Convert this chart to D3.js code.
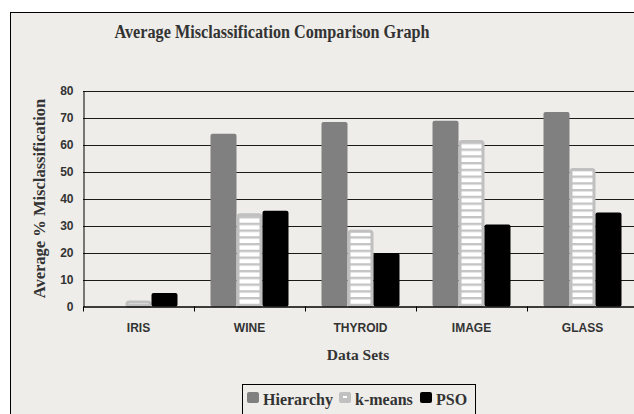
<!DOCTYPE html>
<html><head><meta charset="utf-8">
<script src="https://cdn.jsdelivr.net/npm/d3@7"></script>
<style>body{margin:0;background:#fff}</style>
</head><body>
<script>
const categories = ["IRIS","WINE","THYROID","IMAGE","GLASS"];
const seriesNames = ["Hierarchy","k-means","PSO"];
const hierarchy = [0, 64, 68.3, 68.8, 72];
const kmeans = [2.2, 34.5, 28.4, 61.7, 51.3];
const pso = [5.0, 35.5, 19.8, 30.4, 34.8];
const yTicks = [0,10,20,30,40,50,60,70,80];

const W=634,H=414;
const svg=d3.select("body").append("svg").attr("width",W).attr("height",H);
const defs=svg.append("defs");
const pat=defs.append("pattern").attr("id","stripes").attr("patternUnits","userSpaceOnUse")
  .attr("width",8).attr("height",6.75);
pat.append("rect").attr("width",8).attr("height",6.75).attr("fill","#ffffff");
pat.append("rect").attr("y",0).attr("width",8).attr("height",2.4).attr("fill","#c4c4c4");

svg.append("rect").attr("x",10.5).attr("y",12.5).attr("width",640).attr("height",420)
  .attr("fill","#eeede9").attr("stroke","#000").attr("stroke-width",1);

const m={l:83,r:638,t:90.5,b:306.5};
const x=d3.scaleBand().domain(categories).range([m.l,m.r]);
const y=d3.scaleLinear().domain([0,80]).range([m.b,m.t]);
const inner=d3.scaleBand().domain(seriesNames).range([0,78]).padding(0);

// gridlines
svg.append("g").selectAll("line").data(yTicks.filter(d=>d>0)).join("line")
  .attr("x1",m.l).attr("x2",m.r).attr("y1",d=>Math.round(y(d))+0.5).attr("y2",d=>Math.round(y(d))+0.5)
  .attr("stroke","#1a1a1a").attr("stroke-width",1);

const data = categories.map((c,i)=>({c, vals:[hierarchy[i],kmeans[i],pso[i]]}));
const fills=["#808080","url(#stripes)","#000000"];
const groups=svg.append("g").selectAll("g").data(data).join("g")
  .attr("transform",d=>`translate(${x(d.c)+x.bandwidth()/2-39},0)`);
groups.selectAll("rect").data(d=>d.vals.map((v,k)=>({v,k,s:seriesNames[k]}))).join("rect")
  .attr("x",d=>inner(d.s)+(d.k==1?1.5:0)).attr("width",d=>inner.bandwidth()+(d.k==1?-3:0))
  .attr("y",d=>y(d.v)+(d.k==1?1.5:0)).attr("height",d=>Math.max(0,y(0)-y(d.v)-(d.k==1?1.5:0)))
  .attr("rx",2)
  .attr("fill",d=>fills[d.k])
  .attr("stroke",d=>d.k==1?"#c0c0c0":"none").attr("stroke-width",3);

// axes
const yAxis=d3.axisLeft(y).tickValues(yTicks).tickSize(0).tickPadding(10);
const ga=svg.append("g").attr("transform",`translate(${m.l+0.5},0)`).call(yAxis);
ga.select(".domain").attr("stroke","#000");
ga.selectAll("text").attr("font-family","Liberation Sans, Arial, sans-serif").attr("font-weight","bold")
  .attr("font-size",12).attr("fill","#333");
const xAxis=d3.axisBottom(x).tickSize(0).tickPadding(17);
const gx=svg.append("g").attr("transform",`translate(0,${m.b})`).call(xAxis);
gx.select(".domain").attr("stroke","#000").attr("stroke-width",1.5);
gx.selectAll("text").attr("font-family","Liberation Sans, Arial, sans-serif").attr("font-weight","bold")
  .attr("font-size",12).attr("fill","#333");
// category separator ticks
svg.append("g").selectAll("line").data(categories).join("line")
  .attr("x1",d=>x(d)+0.5).attr("x2",d=>x(d)+0.5).attr("y1",m.b).attr("y2",m.b+5)
  .attr("stroke","#000");

const serif="Liberation Serif, Times New Roman, serif";
svg.append("text").attr("x",272).attr("y",38).attr("text-anchor","middle")
  .attr("font-family",serif).attr("font-weight","bold").attr("font-size",18).attr("fill","#333")
  .attr("textLength",315).attr("lengthAdjust","spacingAndGlyphs")
  .text("Average Misclassification Comparison Graph");
svg.append("text").attr("transform",`translate(45,${(m.t+m.b)/2}) rotate(-90)`).attr("text-anchor","middle")
  .attr("font-family",serif).attr("font-weight","bold").attr("font-size",16.5).attr("fill","#333")
  .text("Average % Misclassification");
svg.append("text").attr("x",358).attr("y",360).attr("text-anchor","middle")
  .attr("font-family",serif).attr("font-weight","bold").attr("font-size",15.5).attr("fill","#333")
  .text("Data Sets");

// legend
const lg=svg.append("g");
lg.append("rect").attr("x",242.5).attr("y",384.5).attr("width",233).attr("height",40)
  .attr("fill","#eeede9").attr("stroke","#000");
const lx=[247,339,420];
const sw=["#808080","#c0c0c0","#000"];
seriesNames.forEach((s,i)=>{
  lg.append("rect").attr("x",lx[i]).attr("y",392).attr("width",12).attr("height",11).attr("rx",2).attr("fill",sw[i]);
  if(i==1) lg.append("rect").attr("x",lx[i]+4).attr("y",396).attr("width",4).attr("height",2).attr("fill","#fff");
  lg.append("text").attr("x",lx[i]+16).attr("y",404.5).attr("font-family",serif).attr("font-weight","bold")
    .attr("font-size",16).attr("fill","#333").text(s);
});
</script>
</body></html>
